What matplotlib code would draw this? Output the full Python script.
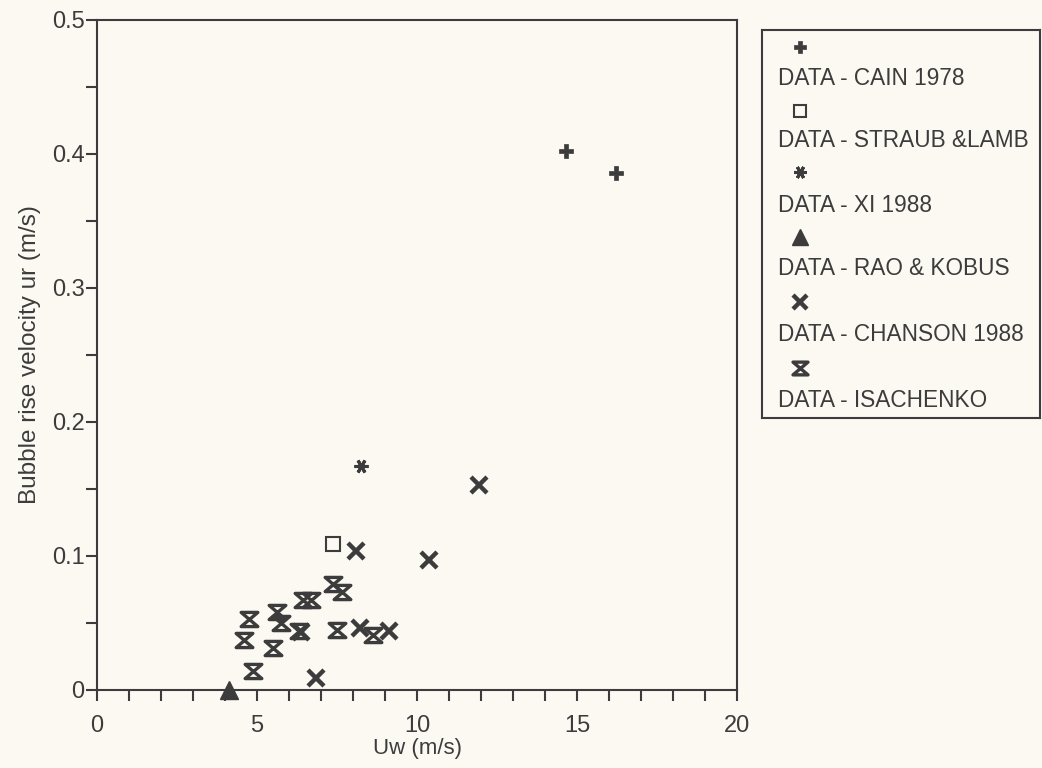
import matplotlib
matplotlib.use("Agg")
import matplotlib.pyplot as plt
from matplotlib.path import Path
from matplotlib.ticker import MultipleLocator

plt.rcParams['font.family'] = ['Liberation Sans', 'DejaVu Sans']

# ---- data ----
cain_x = [14.66, 16.22]
cain_y = [0.402, 0.386]

straub_x = [7.39]
straub_y = [0.109]

xi_x = [8.24]
xi_y = [0.167]

rao_x = [4.12]
rao_y = [0.0]

chanson_x = [11.95, 8.08, 10.39, 8.21, 9.14, 6.83, 6.36]
chanson_y = [0.153, 0.104, 0.097, 0.046, 0.044, 0.009, 0.043]

isachenko_x = [4.74, 4.59, 4.87, 5.62, 5.74, 5.49, 6.45, 6.70, 6.30, 7.39, 7.67, 7.49, 8.61]
isachenko_y = [0.053, 0.037, 0.014, 0.058, 0.050, 0.031, 0.067, 0.067, 0.044, 0.079, 0.073, 0.045, 0.041]

legend_labels = ["DATA - CAIN 1978", "DATA - STRAUB &LAMB", "DATA - XI 1988",
                 "DATA - RAO & KOBUS", "DATA - CHANSON 1988", "DATA - ISACHENKO"]

x_ticks = [0, 5, 10, 15, 20]
x_tick_labels = ['0', '5', '10', '15', '20']
y_ticks = [0, 0.1, 0.2, 0.3, 0.4, 0.5]
y_tick_labels = ['0', '0.1', '0.2', '0.3', '0.4', '0.5']

x_label = "Uw (m/s)"
y_label = "Bubble rise velocity ur (m/s)"

# ---- style ----
BG = '#fcf9f3'
INK = '#3c3c3c'
hourglass = Path([(-1, 0.85), (1, 0.85), (-1, -0.85), (1, -0.85), (-1, 0.85)],
                 [Path.MOVETO, Path.LINETO, Path.LINETO, Path.LINETO, Path.CLOSEPOLY])

styles = [
    dict(marker='P', ms=10, mfc=INK, mec=INK, mew=0.5),
    dict(marker='s', ms=10, mfc='none', mec=INK, mew=1.5),
    dict(marker=(6, 2, 90), ms=10, mfc=INK, mec=INK, mew=2.2),
    dict(marker='^', ms=13, mfc=INK, mec=INK, mew=1),
    dict(marker='x', ms=11, mfc=INK, mec=INK, mew=3.2),
    dict(marker=hourglass, ms=12, mfc='none', mec=INK, mew=2.4),
]
series = [(cain_x, cain_y), (straub_x, straub_y), (xi_x, xi_y),
          (rao_x, rao_y), (chanson_x, chanson_y), (isachenko_x, isachenko_y)]

fig = plt.figure(figsize=(10.42, 7.68), dpi=100, facecolor=BG)
ax = fig.add_axes([0.0931, 0.1016, 0.6142, 0.8724], facecolor=BG)

for (xs, ys), st in zip(series, styles):
    ax.plot(xs, ys, linestyle='none', clip_on=False, zorder=3, **st)

ax.set_xlim(0, 20)
ax.set_ylim(0, 0.5)
ax.xaxis.set_minor_locator(MultipleLocator(1))
ax.yaxis.set_minor_locator(MultipleLocator(0.05))
ax.set_xticks(x_ticks)
ax.set_xticklabels(x_tick_labels)
ax.set_yticks(y_ticks)
ax.set_yticklabels(y_tick_labels)

ax.tick_params(axis='both', which='both', direction='out', color=INK, width=1.5,
               labelcolor=INK, labelsize=17, length=8)
ax.tick_params(axis='x', which='major', pad=10)
ax.tick_params(axis='y', which='major', pad=1)
for sp in ax.spines.values():
    sp.set_color(INK)
    sp.set_linewidth(1.5)

ax.set_xlabel(x_label, fontsize=16, color=INK, labelpad=1)
ax.set_ylabel(y_label, fontsize=17.5, color=INK, labelpad=8)

# ---- legend box drawn manually (marker above each label) ----
lax = fig.add_axes([0.7313, 0.4557, 0.2668, 0.5052], facecolor=BG)
lax.set_xlim(0, 278)
lax.set_ylim(388, 0)
lax.set_xticks([])
lax.set_yticks([])
for sp in lax.spines.values():
    sp.set_color(INK)
    sp.set_linewidth(1.5)

marker_y = [17, 81, 142, 207, 272, 338]
label_y = [48, 110, 175, 238, 304, 370]
for st, lab, my, ty in zip(styles, legend_labels, marker_y, label_y):
    s = dict(st)
    s['ms'] = s['ms'] * 0.9
    lax.plot([38], [my], linestyle='none', **s)
    lax.text(16, ty, lab, fontsize=16.3, color=INK, va='center', ha='left')

fig.savefig('out.png', dpi=100, facecolor=BG)
